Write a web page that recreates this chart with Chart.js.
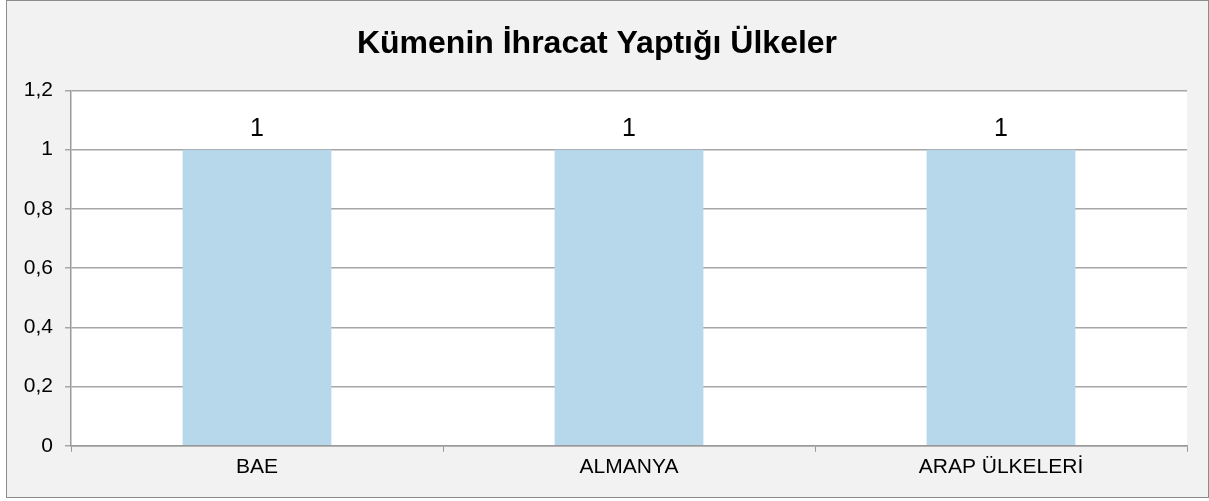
<!DOCTYPE html>
<html>
<head>
<meta charset="utf-8">
<script src="https://cdn.jsdelivr.net/npm/chart.js@4/dist/chart.umd.min.js"></script>
<style>
  body { margin: 0; background: #ffffff; }
  #box {
    position: absolute; left: 6px; top: 0px;
    width: 1201px; height: 496px;
    border: 1px solid #8c8c8c;
    background: #f2f2f2;
  }
</style>
</head>
<body>
<div id="box"><canvas id="chart"></canvas></div>
<script>
const categories = ["BAE", "ALMANYA", "ARAP ÜLKELERİ"]
const values = [1, 1, 1]
const yTickLabels = ["0", "0,2", "0,4", "0,6", "0,8", "1", "1,2"]
const chartTitle = "Kümenin İhracat Yaptığı Ülkeler"

const FONT = "'Liberation Sans', Arial, sans-serif"

// white plot area
const plotBackground = {
  id: "plotBackground",
  beforeDraw(chart) {
    const { ctx, chartArea } = chart
    ctx.save()
    ctx.fillStyle = "#ffffff"
    ctx.fillRect(chartArea.left, chartArea.top, chartArea.right - chartArea.left, chartArea.bottom - chartArea.top)
    ctx.restore()
  }
}

// value labels above bars
const valueLabels = {
  id: "valueLabels",
  afterDatasetsDraw(chart) {
    const { ctx } = chart
    const meta = chart.getDatasetMeta(0)
    ctx.save()
    ctx.font = "25px " + FONT
    ctx.fillStyle = "#000000"
    ctx.textAlign = "center"
    ctx.textBaseline = "middle"
    meta.data.forEach((bar, i) => {
      ctx.fillText(String(values[i]), bar.x, bar.y - 21)
    })
    ctx.restore()
  }
}

const canvas = document.getElementById("chart")
canvas.width = 1201
canvas.height = 496

new Chart(canvas.getContext("2d"), {
  type: "bar",
  data: {
    labels: categories,
    datasets: [
      {
        data: values,
        backgroundColor: "#b7d7ea",
        borderWidth: 0,
        categoryPercentage: 1,
        barPercentage: 0.4
      }
    ]
  },
  options: {
    responsive: false,
    animation: false,
    layout: { padding: { left: 0, right: 21, top: 0, bottom: 14 } },
    plugins: {
      legend: { display: false },
      tooltip: { enabled: false },
      title: {
        display: true,
        text: chartTitle,
        color: "#000000",
        font: { family: FONT, size: 32, weight: "bold" },
        padding: { top: 24, bottom: 27 }
      }
    },
    scales: {
      x: {
        grid: {
          offset: true,
          drawOnChartArea: false,
          drawTicks: true,
          tickLength: 6,
          color: "#9a9a9a"
        },
        border: { color: "#9a9a9a", width: 1.5 },
        ticks: {
          color: "#000000",
          padding: 3,
          font: { family: FONT, size: 21 }
        }
      },
      y: {
        min: 0,
        max: 1.2,
        afterFit(scale) { scale.width = 64 },
        grid: {
          color: "#a6a6a6",
          lineWidth: 1.5,
          drawTicks: true,
          tickLength: 6
        },
        border: { color: "#9a9a9a", width: 1.5 },
        ticks: {
          stepSize: 0.2,
          color: "#000000",
          padding: 12,
          font: { family: FONT, size: 21 },
          callback: (v, i) => yTickLabels[i]
        }
      }
    }
  },
  plugins: [plotBackground, valueLabels]
})
</script>
</body>
</html>
